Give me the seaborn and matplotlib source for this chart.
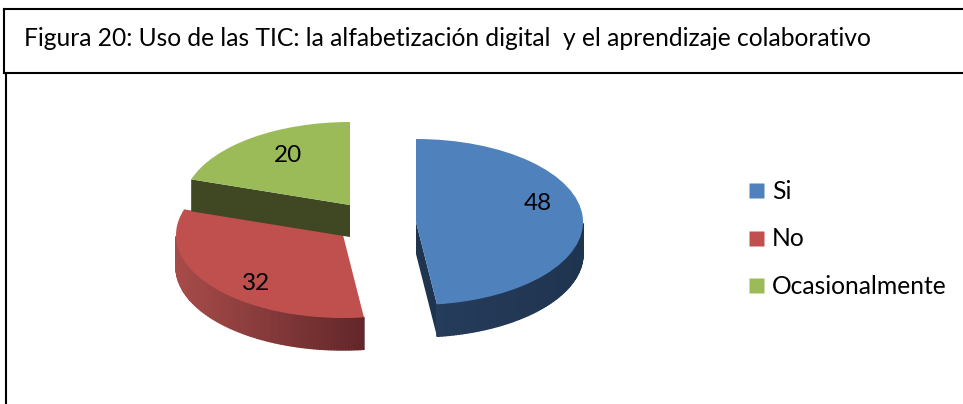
import numpy as np
import matplotlib
matplotlib.use("Agg")
import matplotlib.pyplot as plt
from matplotlib.colors import to_rgb
from matplotlib.lines import Line2D
from matplotlib.patches import Polygon
import seaborn as sns

categories = ["Si", "No", "Ocasionalmente"]
values = [48, 32, 20]
title = "Figura 20: Uso de las TIC: la alfabetización digital  y el aprendizaje colaborativo"

colors = ["#4F81BD", "#C0504D", "#9BBB59"]
side_from = ["#1F344F", "#A84C4A", "#3F4822"]
side_to = ["#253C5B", "#62272A", "#3F4822"]
apex_px = [(416, 222), (343, 235), (350, 205)]
label_px = [(538, 203), (256, 283), (288, 156)]

sns.set_theme(style="white")
plt.rcParams["font.family"] = ["Lato", "DejaVu Sans"]
plt.rcParams["text.color"] = "black"

W, H = 963, 404
RX, SQUASH, DEPTH = 167, 0.497, 32

fig = plt.figure(figsize=(W / 100, H / 100), dpi=100, facecolor="white")
ax = fig.add_axes([0, 0, 1, 1])


def yd(py):
    return (H - py) / SQUASH


wedges, _ = ax.pie(values, colors=colors, startangle=90, counterclock=False,
                   radius=RX, wedgeprops={"linewidth": 0, "zorder": 5})
ax.set_aspect("auto")
ax.set_xlim(0, W)
ax.set_ylim(0, H / SQUASH)
ax.axis("off")

dy = DEPTH / SQUASH
for i, w in enumerate(wedges):
    cx, cy = apex_px[i][0], yd(apex_px[i][1])
    w.set_center((cx, cy))
    w.set_zorder(5 + 2 * i)
    z = 4 + 2 * i
    c0, c1 = np.array(to_rgb(side_from[i])), np.array(to_rgb(side_to[i]))

    # radial face seen from the front (Si: trailing edge, Ocasionalmente: leading edge)
    face_angle = {0: w.theta1, 2: w.theta2}.get(i)
    if face_angle is not None:
        t = np.deg2rad(face_angle)
        ex, ey = cx + RX * np.cos(t), cy + RX * np.sin(t)
        ax.add_patch(Polygon([(cx, cy), (ex, ey), (ex, ey - dy), (cx, cy - dy)],
                             closed=True, fc=side_from[i], ec="none", zorder=z))

    # outer rim: only the lower half of the ellipse shows
    angles = np.arange(np.ceil(w.theta1), np.floor(w.theta2) + 1)
    shown = angles[np.sin(np.deg2rad(angles % 360)) < 0]
    if len(shown) > 1:
        shown = np.unique(np.r_[shown, w.theta1 if np.sin(np.deg2rad(w.theta1)) < 0 else shown[0],
                                w.theta2 if np.sin(np.deg2rad(w.theta2)) < 0 else shown[-1]])
        xs = cx + RX * np.cos(np.deg2rad(shown))
        ys = cy + RX * np.sin(np.deg2rad(shown))
        lo, hi = xs.min(), xs.max()
        for j in range(len(shown) - 1):
            f = ((xs[j] + xs[j + 1]) / 2 - lo) / (hi - lo)
            if i == 0:
                f = 1 - f
            col = c0 + (c1 - c0) * f
            ax.add_patch(Polygon([(xs[j], ys[j]), (xs[j + 1], ys[j + 1]),
                                  (xs[j + 1], ys[j + 1] - dy), (xs[j], ys[j] - dy)],
                                 closed=True, fc=col, ec=col, lw=1.0, zorder=z))
    if i == 0:
        # keep the rim seams from spilling over the top surface
        w.set_zorder(z + 1)

for v, (px, py) in zip(values, label_px):
    ax.text(px, yd(py), str(v), ha="center", va="center", fontsize=17.5,
            color="black", zorder=20)

# frames
for xs, ys in [((4, 963), (9, 9)), ((4, 963), (73, 73)), ((4, 4), (9, 73)), ((6, 6), (73, 404))]:
    ax.add_line(Line2D(xs, [yd(y) for y in ys], color="black", lw=1.5, zorder=30,
                       solid_capstyle="projecting"))

ax.text(24, yd(38), title, ha="left", va="center", fontsize=17.72, color="black", zorder=30)

handles = [Line2D([], [], marker="s", ls="none", ms=10.8, mfc=c, mec="none") for c in colors]
fig.legend(handles, categories, loc="upper left", bbox_to_anchor=(741 / W, 1 - 180 / H),
           frameon=False, fontsize=17.7, labelspacing=0.99, handletextpad=0.0,
           labelcolor="black", borderpad=0, borderaxespad=0, handlelength=1.25)

fig.savefig("out.png", dpi=100, facecolor="white")
